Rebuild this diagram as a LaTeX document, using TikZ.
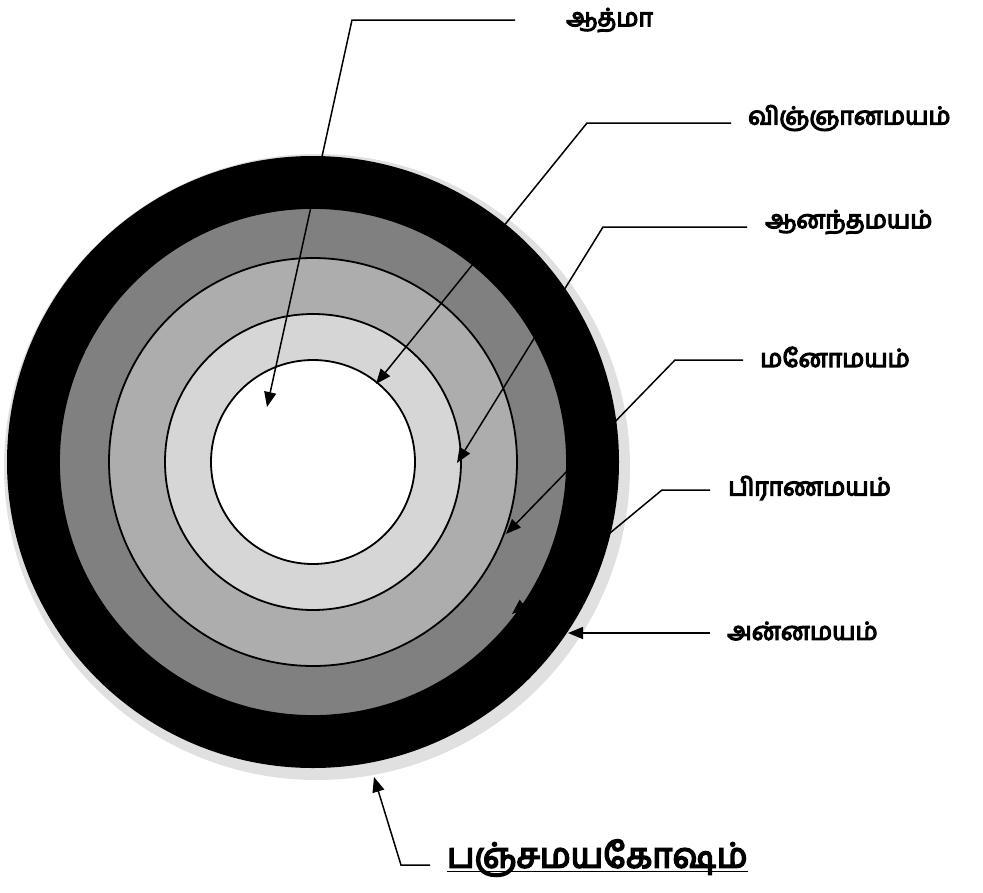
\documentclass[tikz,border=0pt]{standalone}
\usepackage{fontspec}
\newfontfamily\tamil[Script=Tamil, FakeBold=5]{Hind Madurai}
\usetikzlibrary{arrows.meta}
\tikzset{
  lbl/.style={anchor=west, inner sep=0pt, font=\tamil\fontsize{24.8}{28}\selectfont},
  lead/.style={line width=1.5pt, -{Triangle[length=15pt,width=12pt]}},
  ring/.style={draw=black, line width=1.8pt}
}
\begin{document}
\begin{tikzpicture}[x=1pt,y=-1pt]
\useasboundingbox (0,0) rectangle (983,892);
% halo / shadow
\fill[black!12] (317,467) circle[radius=313pt];
% rings
\fill[black] (313,462) circle[radius=306pt];
\filldraw[ring, fill=black!50] (313,462) circle[radius=254pt];
\filldraw[ring, fill=black!32] (313,462) circle[radius=204pt];
\filldraw[ring, fill=black!16] (313,462) circle[radius=148pt];
\filldraw[ring, fill=white] (313,462) circle[radius=102pt];
% labels
\node[lbl] (atma)  at (566,20)  {ஆத்மா};
\node[lbl] (vij)   at (748,118) {விஞ்ஞானமயம்};
\node[lbl] (ana)   at (765,222) {ஆனந்தமயம்};
\node[lbl] (mano)  at (760,357) {மனோமயம்};
\node[lbl] (prana) at (728,488) {பிராணமயம்};
\node[lbl] (anna)  at (727,631) {அன்னமயம்};
\node[anchor=west, inner sep=0pt, font=\tamil\fontsize{34.5}{38}\selectfont] (title) at (447,858) {பஞ்சமயகோஷம்};
\draw[line width=1.4pt] (title.south west) ++(0,-5) coordinate (u1) -- (u1 -| title.east);
% connector coordinates
\coordinate (s1) at (515,20);  \coordinate (b1) at (352,20);  \coordinate (t1) at (267,407);
\coordinate (s2) at (731,123); \coordinate (b2) at (587,123); \coordinate (t2) at (376,384);
\coordinate (s3) at (747,227); \coordinate (b3) at (603,227); \coordinate (t3) at (457,463);
\coordinate (s4) at (743,360); \coordinate (b4) at (675,360); \coordinate (t4) at (506,534);
\coordinate (s5) at (710,490); \coordinate (b5) at (662,490); \coordinate (t5) at (512,614);
\coordinate (s6) at (710,633); \coordinate (t6) at (568,633);
\coordinate (s7) at (430,865); \coordinate (b7) at (401,865); \coordinate (t7) at (374,777);
\draw[lead] (s1) -- (b1) -- (t1);
\draw[lead] (s2) -- (b2) -- (t2);
\draw[lead] (s3) -- (b3) -- (t3);
\draw[lead] (s4) -- (b4) -- (t4);
\draw[lead] (s5) -- (b5) -- (t5);
\draw[lead] (s6) -- (t6);
\draw[lead] (s7) -- (b7) -- (t7);
\end{tikzpicture}
\end{document}
